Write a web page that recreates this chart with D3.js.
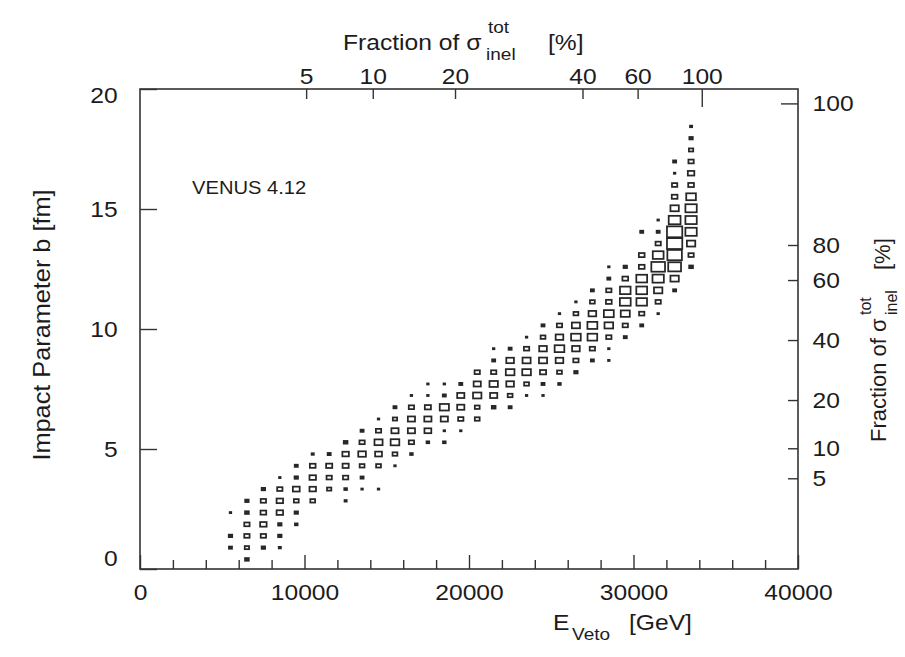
<!DOCTYPE html>
<html><head><meta charset="utf-8">
<script src="https://cdn.jsdelivr.net/npm/d3@7"></script>
<style>body{margin:0;background:#fff}svg{display:block}</style>
</head><body>
<svg id="chart" width="905" height="657"></svg>
<script>
// ---------------- DATA ----------------
// x bin centres (E_Veto, GeV), one per column of boxes
const eCenters = [5500,6500,7500,8500,9500,10500,11500,12500,13500,14500,15500,16500,17500,18500,19500,20500,21500,22500,23500,24500,25500,26500,27500,28500,29500,30500,31500,32500,33500];
// impact-parameter bin centres (fm), row index 0..37
const bCenters = [0.40,0.89,1.38,1.86,2.35,2.84,3.33,3.81,4.30,4.79,5.28,5.76,6.25,6.74,7.23,7.71,8.20,8.69,9.18,9.66,10.15,10.64,11.13,11.61,12.10,12.59,13.08,13.56,14.05,14.54,15.03,15.51,16.00,16.49,16.98,17.46,17.95,18.44];
// first filled row of each column
const rowStart = [1,0,1,1,3,5,6,5,6,6,8,9,10,10,11,12,13,13,14,14,15,16,17,17,19,20,21,23,25];
// relative bin contents (max = 100) for consecutive rows starting at rowStart
const cellCounts = [
  [4,5,0,1],
  [6,8,12,12,6,5],
  [5,12,18,14,12,5],
  [2,5,5,18,18,12,1],
  [3,5,10,20,5,4],
  [10,18,18,14,2],
  [8,12,16,4],
  [2,3,12,16,18,6],
  [1,4,10,25,12,4],
  [1,0,10,20,28,12,1],
  [1,10,32,22,8,4],
  [3,12,22,22,12,1],
  [3,20,22,16,1,1],
  [3,1,22,36,4,1],
  [1,12,22,22,4],
  [10,10,30,22,12],
  [6,22,30,12,4,1],
  [4,10,25,32,25,4],
  [1,10,32,28,12,1],
  [1,4,16,28,25,10,4],
  [3,10,25,40,25,12,1],
  [5,12,25,40,28,10,1],
  [4,12,40,42,25,10,4],
  [1,1,12,32,42,14,12,4,1],
  [4,12,35,50,48,14,5],
  [4,12,48,50,50,14,14,0,4],
  [1,12,30,55,80,50,12,4,1],
  [4,30,70,90,100,100,60,30,14,12,1,4],
  [6,12,30,55,55,55,40,14,18,12,8,5,2]
];
const xTicksMajor = [0,10000,20000,30000,40000];
const xTicksMinor = [2000,4000,6000,8000,12000,14000,16000,18000,22000,24000,26000,28000,32000,34000,36000,38000];
const yTicks = [0,5,10,15,20];
// top axis: fraction of sigma_inel (%) vs E_Veto (GeV)
const topPct = [5,10,20,40,60,100];
const topE = [10100,14150,19150,26900,30250,34150];
// right axis: fraction of sigma_inel (%) vs b (fm)
const rightPct = [5,10,20,40,60,80,100];
const rightB = [3.78,5.03,7.04,9.54,12.04,13.5,19.4];
const binWidthE = 1000, binWidthB = 0.4875, maxCount = 100;

// ---------------- CHART ----------------
const FONT = '"Liberation Sans", Arial, Helvetica, sans-serif';
const INK = '#1c1c1c';
const SX = 1.12;
const svg = d3.select('#chart');
svg.append('rect').attr('width',905).attr('height',657).attr('fill','#fff');

const L = 140, R = 798, T = 89, B = 569;
const x = d3.scaleLinear().domain([0,40000]).range([L,R]);
const y = d3.scaleLinear().domain([0,20]).range([B,T]);

// cells
const cells = [];
cellCounts.forEach((arr, c) => {
  arr.forEach((v, j) => {
    if (v > 0) cells.push({e: eCenters[c], b: bCenters[rowStart[c] + j], v});
  });
});
const bw = x(binWidthE) - x(0), bh = y(0) - y(binWidthB);
const frac = d3.scaleSqrt().domain([0, maxCount]).range([0, 0.93]);
svg.append('g').selectAll('rect').data(cells).join('rect')
  .attr('x', d => x(d.e) - frac(d.v)*bw/2)
  .attr('y', d => y(d.b) - frac(d.v)*bh/2)
  .attr('width', d => frac(d.v)*bw)
  .attr('height', d => frac(d.v)*bh)
  .attr('fill', d => d.v < 7 ? '#333' : 'none')
  .attr('stroke', '#262626').attr('stroke-width', 1.75);

// frame
svg.append('rect').attr('x',L).attr('y',T).attr('width',R-L).attr('height',B-T)
  .attr('fill','none').attr('stroke','#333').attr('stroke-width',1.6);

function styleAxis(g){
  g.select('.domain').remove();
  g.selectAll('line').attr('stroke','#333').attr('stroke-width',1.4);
  g.selectAll('text').attr('font-family',FONT).attr('font-size',22).attr('fill',INK)
    .attr('transform',`scale(${SX},1)`);
}

// bottom axis
svg.append('g').attr('transform',`translate(0,${B})`)
  .call(d3.axisBottom(x).tickValues(xTicksMinor).tickSizeInner(-9).tickSizeOuter(0).tickFormat(''))
  .call(styleAxis);
svg.append('g').attr('transform',`translate(0,${B})`)
  .call(d3.axisBottom(x).tickValues(xTicksMajor).tickSizeInner(-14).tickSizeOuter(0).tickPadding(15).tickFormat(d3.format('d')))
  .call(styleAxis);

// left axis
svg.append('g').attr('transform',`translate(${L},0)`)
  .call(d3.axisLeft(y).tickValues(yTicks).tickSizeInner(-17).tickSizeOuter(0).tickPadding(20))
  .call(styleAxis)
  .call(g => g.selectAll('text').attr('dy', d => d===0 ? '-0.16em' : d===20 ? '0.6em' : '0.32em'));

// top axis (fraction of sigma)
const tScale = d3.scaleLinear().domain(topPct).range(topE.map(x));
svg.append('g').attr('transform',`translate(0,${T})`)
  .call(d3.axisTop(tScale).tickValues(topPct).tickSizeInner(-10).tickSizeOuter(0).tickPadding(5))
  .call(styleAxis)
  .call(g => g.selectAll('.tick line').filter(d => d===100).attr('y2',18));

// right axis (fraction of sigma)
const rScale = d3.scaleLinear().domain(rightPct).range(rightB.map(y));
svg.append('g').attr('transform',`translate(${R},0)`)
  .call(d3.axisRight(rScale).tickValues(rightPct).tickSizeInner(-10).tickSizeOuter(0).tickPadding(13))
  .call(styleAxis)
  .call(g => g.selectAll('.tick line').filter(d => d===100).attr('x2',-17));

// text helper
function txt(x0, y0, str, o={}) {
  const g = svg.append('g').attr('transform',`translate(${x0},${y0}) rotate(${o.rot||0})`);
  g.append('text').attr('transform',`scale(${o.sx||SX},1)`)
    .attr('text-anchor', o.anchor||'start')
    .attr('font-family',FONT).attr('font-size',o.size||22).attr('fill',INK).text(str);
}

// top title
txt(343, 50, 'Fraction of σ');
txt(488, 33, 'tot', {size:17});
txt(486, 60, 'inel', {size:17});
txt(548, 50, '[%]');

// bottom title
txt(553, 630, 'E');
txt(572, 640, 'Veto', {size:17});
txt(629, 630, '[GeV]');

// left title
txt(50, 325, 'Impact Parameter  b [fm]', {rot:-90, anchor:'middle', sx:1.1, size:23});

// right title (rotated pieces)
const rg = svg.append('g').attr('transform','translate(886,442) rotate(-90)');
function rt(lx, ly, str, size){
  rg.append('text').attr('x',lx).attr('y',ly).attr('font-family',FONT)
    .attr('font-size',size).attr('fill',INK).text(str);
}
rt(0, 0, 'Fraction of σ', 22);
rt(127, -15, 'tot', 16);
rt(127, 11, 'inel', 16);
rt(172, 4, '[%]', 22);

// annotation
txt(192, 194, 'VENUS 4.12', {size:18});
</script>
</body></html>
